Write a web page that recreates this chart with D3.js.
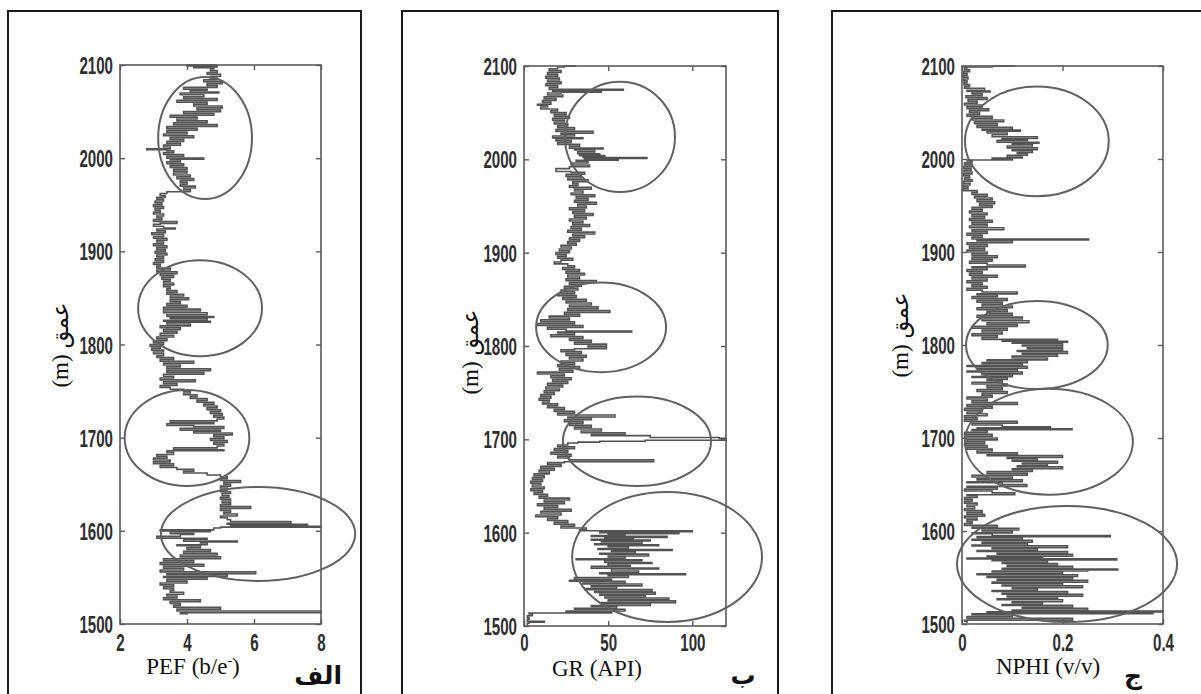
<!DOCTYPE html>
<html><head><meta charset="utf-8">
<script src="https://cdn.jsdelivr.net/npm/d3@7/dist/d3.min.js"></script>
<style>
html,body{margin:0;padding:0;background:#fff;}
svg{display:block;}
</style></head>
<body>
<svg id="chart" width="1201" height="694"></svg>
<script>
// ---------- DATA ----------
const depthTicks = [1500, 1600, 1700, 1800, 1900, 2000, 2100];
const pefTicks = [2, 4, 6, 8];
const grTicks = [0, 50, 100];
const nphiTicks = [0, 0.2, 0.4];
const nphiTickLabels = ["0", "0.2", "0.4"];

const xLabels = ["PEF (b/e", "GR (API)", "NPHI (v/v)"];
const yLabel = "(m) عمق";
const panelLetters = ["الف", "ب", "ج"];

// [depth (m), PEF (b/e-)]
const pefData = [
[2100,4.9],[2099,4.0],[2098,4.9],[2097,4.2],[2096,4.8],[2094,4.7],[2092,4.9],[2090,4.6],[2088,5.0],[2086,4.7],
[2084,4.9],[2082,4.5],[2080,5.05],[2078,4.6],[2076,4.9],[2074,3.9],[2073,4.6],[2071,4.1],[2070,4.95],[2068,3.8],
[2066,4.5],[2064,3.9],[2062,4.9],[2060,3.7],[2058,4.6],[2056,4.2],[2054,5.05],[2052,4.3],[2050,5.0],[2048,3.9],
[2046,4.8],[2044,3.5],[2042,4.3],[2040,3.7],[2038,4.6],[2036,3.6],[2034,4.9],[2032,3.4],[2030,4.3],[2028,3.4],
[2026,4.0],[2024,3.3],[2022,4.2],[2020,3.5],[2018,3.9],[2016,3.4],[2014,3.8],[2012,3.3],[2010,3.5],[2009,2.8],
[2008,3.4],[2006,3.6],[2004,3.3],[2002,3.9],[2000,3.4],[1999,4.5],[1998,3.5],[1996,3.8],[1994,3.4],[1992,3.9],
[1990,3.5],[1988,4.0],[1986,3.6],[1984,4.0],[1982,3.6],[1980,4.1],[1978,3.7],[1976,4.2],[1974,3.8],[1972,4.0],
[1970,3.8],[1968,4.25],[1966,3.9],[1964,4.1],[1962,3.4],[1960,3.2],[1958,3.35],[1956,3.1],[1954,3.3],[1952,3.05],
[1950,3.25],[1948,3.0],[1946,3.3],[1944,3.05],[1942,3.2],[1940,3.0],[1938,3.3],[1936,3.1],[1934,3.25],[1932,3.0],
[1930,3.7],[1929,3.2],[1927,3.0],[1925,3.3],[1924,3.65],[1922,3.1],[1920,3.35],[1918,2.95],[1916,3.3],[1914,3.0],
[1912,3.4],[1910,3.1],[1908,3.3],[1906,3.0],[1904,3.4],[1902,3.1],[1900,3.35],[1898,3.05],[1896,3.4],[1894,3.1],
[1892,3.3],[1890,3.05],[1888,3.3],[1886,3.0],[1884,3.2],[1882,3.1],[1880,3.5],[1878,3.1],[1876,3.7],[1874,3.2],
[1872,3.6],[1870,3.25],[1868,3.5],[1866,3.3],[1864,3.6],[1862,3.3],[1860,3.5],[1858,3.4],[1856,3.7],[1854,3.4],
[1852,3.9],[1850,3.5],[1848,4.05],[1846,3.5],[1844,3.8],[1842,3.4],[1840,4.0],[1838,3.3],[1836,4.4],[1834,3.3],
[1832,4.6],[1830,3.4],[1829,4.8],[1828,3.5],[1826,4.6],[1825,3.3],[1824,4.7],[1822,3.4],[1820,4.1],[1818,3.2],
[1816,3.8],[1814,3.3],[1812,3.7],[1810,3.2],[1808,3.6],[1806,3.1],[1804,3.4],[1802,3.0],[1800,3.3],[1798,2.9],
[1796,3.2],[1794,2.95],[1792,3.3],[1790,3.0],[1788,3.3],[1786,3.1],[1784,3.6],[1782,3.2],[1780,4.2],[1778,3.3],
[1776,3.8],[1774,3.4],[1772,4.7],[1770,3.4],[1768,4.5],[1766,3.3],[1764,3.6],[1762,3.2],[1760,4.25],[1758,3.3],
[1756,3.7],[1754,3.2],[1752,3.5],[1750,3.9],[1748,4.1],[1746,3.9],[1744,4.3],[1742,4.1],[1740,4.6],[1738,4.3],
[1736,4.8],[1734,4.5],[1732,4.9],[1730,4.6],[1728,5.0],[1726,4.7],[1724,5.05],[1722,4.8],[1720,5.1],[1718,4.9],
[1716,3.5],[1715,4.8],[1713,3.4],[1712,4.2],[1710,5.1],[1708,3.8],[1707,5.0],[1705,4.2],[1703,5.35],[1701,4.8],
[1699,5.1],[1697,4.7],[1695,5.2],[1693,4.8],[1691,5.1],[1689,4.9],[1687,3.6],[1686,5.1],[1684,3.4],[1682,3.6],
[1680,3.1],[1678,3.4],[1676,3.0],[1674,3.5],[1672,3.0],[1670,3.6],[1668,3.2],[1666,3.7],[1664,4.2],[1662,3.9],
[1660,4.6],[1658,5.0],[1656,5.2],[1654,5.0],[1652,5.6],[1650,5.1],[1648,5.3],[1646,5.0],[1644,5.2],[1642,5.0],
[1640,5.3],[1638,5.05],[1636,5.25],[1634,5.0],[1632,5.3],[1630,5.05],[1628,5.3],[1626,5.0],[1624,5.9],[1622,5.0],
[1620,5.3],[1618,5.1],[1616,5.5],[1614,5.0],[1612,5.2],[1610,5.3],[1608,7.1],[1607,5.2],[1606,7.6],[1605,5.3],
[1604,8.0],[1603,5.0],[1601,4.8],[1600,3.2],[1599,4.7],[1597,3.5],[1596,4.2],[1594,3.8],[1592,3.1],[1591,4.6],
[1589,3.9],[1588,5.5],[1587,4.4],[1585,4.6],[1584,3.7],[1582,4.4],[1580,4.0],[1578,4.7],[1576,3.9],[1574,4.9],
[1572,3.8],[1570,5.0],[1568,3.3],[1566,4.2],[1564,3.2],[1562,4.5],[1560,3.3],[1558,3.9],[1556,3.2],[1554,6.05],
[1553,3.4],[1551,5.2],[1550,3.3],[1548,4.6],[1546,3.4],[1544,4.0],[1542,3.2],[1540,3.6],[1538,3.3],[1536,3.6],
[1534,3.5],[1532,3.9],[1530,3.4],[1528,3.7],[1526,3.3],[1524,4.4],[1522,3.5],[1520,3.8],[1518,3.6],[1516,5.0],
[1514,3.7],[1512,8.0],[1511,3.8],[1510,4.0]
];

// [depth (m), GR (API)]
const grData = [
[2100,31],[2099,24],[2097,20],[2095,15],[2093,22],[2091,14],[2089,20],[2087,13],[2085,21],[2083,14],
[2081,22],[2079,13],[2077,20],[2075,15],[2074,59],[2073,17],[2072,46],[2071,22],[2069,14],[2067,23],
[2065,12],[2063,19],[2061,11],[2059,16],[2058,8],[2056,14],[2054,10],[2052,20],[2050,16],[2048,25],
[2046,18],[2044,27],[2042,17],[2040,24],[2038,18],[2036,26],[2034,20],[2032,30],[2030,19],[2028,41],
[2027,22],[2025,30],[2023,17],[2022,35],[2020,19],[2018,28],[2016,20],[2014,33],[2012,27],[2011,47],
[2010,30],[2008,42],[2006,32],[2005,45],[2004,33],[2003,48],[2002,35],[2001,73],[2000,36],[1999,56],
[1998,31],[1996,38],[1994,28],[1992,39],[1990,27],[1987,19],[1986,28],[1984,36],[1982,25],[1980,34],
[1978,26],[1976,38],[1974,29],[1972,32],[1970,27],[1968,40],[1966,30],[1964,35],[1962,28],[1960,42],
[1958,31],[1956,38],[1954,30],[1952,43],[1950,32],[1948,37],[1946,27],[1944,36],[1942,29],[1940,41],
[1938,30],[1936,37],[1934,27],[1932,35],[1930,29],[1928,39],[1926,28],[1924,34],[1922,26],[1920,42],
[1918,29],[1916,36],[1914,27],[1912,33],[1910,26],[1908,31],[1906,22],[1904,28],[1902,21],[1900,27],
[1898,19],[1896,25],[1894,20],[1892,29],[1890,22],[1888,18],[1886,26],[1884,30],[1882,23],[1880,33],
[1878,25],[1876,36],[1874,26],[1872,33],[1870,25],[1868,43],[1866,27],[1864,34],[1862,24],[1860,32],
[1858,22],[1856,30],[1854,20],[1852,31],[1850,23],[1848,37],[1846,25],[1844,40],[1842,27],[1840,44],
[1838,26],[1836,51],[1834,24],[1832,33],[1830,15],[1828,27],[1826,10],[1824,30],[1822,8],[1820,35],
[1818,14],[1816,25],[1815,64],[1814,20],[1812,30],[1810,16],[1808,35],[1806,27],[1804,40],[1802,30],
[1800,49],[1799,38],[1797,49],[1796,30],[1794,22],[1792,34],[1790,25],[1788,37],[1786,27],[1784,35],
[1782,22],[1780,30],[1778,20],[1776,33],[1774,21],[1772,29],[1770,8],[1768,24],[1766,16],[1764,28],
[1762,17],[1760,26],[1758,14],[1756,23],[1754,13],[1752,21],[1750,12],[1748,18],[1746,10],[1744,16],
[1742,9],[1740,15],[1738,11],[1736,20],[1734,14],[1732,24],[1730,18],[1728,30],[1726,20],[1724,54],
[1723,26],[1721,40],[1719,24],[1717,35],[1715,27],[1713,40],[1711,30],[1709,46],[1707,34],[1705,60],
[1704,40],[1702,75],[1701,116],[1700,120],[1699,120],[1698,72],[1697,45],[1696,32],[1694,26],[1692,20],
[1690,30],[1688,18],[1686,26],[1684,16],[1682,28],[1680,20],[1678,27],[1676,77],[1675,24],[1673,14],
[1671,22],[1669,10],[1667,18],[1665,9],[1663,15],[1661,6],[1659,12],[1657,5],[1655,11],[1653,4],
[1651,10],[1649,5],[1647,12],[1645,4],[1643,11],[1641,6],[1639,14],[1637,9],[1635,27],[1633,12],
[1631,24],[1629,8],[1627,20],[1625,12],[1623,28],[1621,10],[1619,22],[1617,7],[1615,20],[1613,14],
[1611,26],[1609,18],[1607,30],[1605,22],[1603,37],[1602,33],[1601,100],[1600,45],[1599,92],[1598,50],
[1597,60],[1596,40],[1595,85],[1594,48],[1593,65],[1592,40],[1591,75],[1590,46],[1588,70],[1587,42],
[1586,80],[1585,50],[1583,62],[1582,44],[1581,88],[1580,52],[1578,66],[1577,45],[1575,74],[1574,50],
[1572,60],[1571,31],[1570,70],[1568,48],[1567,76],[1565,50],[1564,63],[1562,40],[1561,80],[1559,52],
[1557,68],[1556,45],[1555,96],[1554,50],[1552,62],[1550,30],[1549,52],[1548,27],[1546,60],[1545,35],
[1543,70],[1542,40],[1540,55],[1539,36],[1537,76],[1536,42],[1534,78],[1533,45],[1531,72],[1530,48],
[1528,86],[1527,50],[1525,90],[1524,46],[1522,75],[1521,40],[1519,55],[1518,30],[1516,60],[1515,25],
[1514,52],[1513,3],[1511,5],[1509,2],[1507,3],[1505,2],[1504,12],[1503,3],[1501,2]
];

// [depth (m), NPHI (v/v)]
const nphiData = [
[2100,0.106],[2099,0.06],[2098,0.01],[2096,0.005],[2094,0.015],[2092,0.003],[2090,0.01],[2088,0.002],[2086,0.012],[2084,0.003],
[2082,0.01],[2080,0.004],[2078,0.015],[2076,0.005],[2074,0.045],[2073,0.01],[2072,0.056],[2070,0.02],[2068,0.04],[2066,0.008],
[2064,0.05],[2062,0.012],[2060,0.03],[2058,0.005],[2056,0.04],[2054,0.01],[2052,0.053],[2050,0.015],[2048,0.035],[2046,0.01],
[2044,0.06],[2042,0.02],[2040,0.083],[2038,0.025],[2036,0.07],[2034,0.03],[2032,0.1],[2031,0.04],[2030,0.116],[2028,0.05],
[2026,0.09],[2024,0.06],[2022,0.15],[2021,0.08],[2020,0.13],[2018,0.07],[2017,0.153],[2016,0.1],[2014,0.14],[2012,0.09],
[2010,0.15],[2009,0.1],[2007,0.14],[2006,0.11],[2004,0.13],[2002,0.09],[2001,0.12],[2000,0.06],[1999,0.1],[1998,0.01],
[1996,0.02],[1994,0.005],[1992,0.02],[1990,0.003],[1988,0.018],[1986,0.004],[1984,0.02],[1982,0.003],[1980,0.015],[1978,0.005],
[1976,0.02],[1974,0.003],[1972,0.016],[1970,0.002],[1968,0.012],[1966,0.002],[1964,0.03],[1962,0.02],[1960,0.05],[1958,0.025],
[1956,0.06],[1954,0.03],[1952,0.065],[1950,0.035],[1948,0.06],[1946,0.02],[1944,0.04],[1942,0.015],[1940,0.05],[1938,0.02],
[1936,0.045],[1934,0.015],[1932,0.06],[1930,0.02],[1928,0.05],[1926,0.015],[1924,0.083],[1922,0.02],[1920,0.05],[1918,0.01],
[1916,0.04],[1914,0.02],[1913,0.252],[1912,0.03],[1910,0.1],[1908,0.01],[1906,0.05],[1904,0.015],[1902,0.045],[1900,0.01],
[1898,0.05],[1896,0.02],[1894,0.07],[1892,0.02],[1890,0.06],[1888,0.015],[1886,0.05],[1884,0.126],[1883,0.02],[1881,0.05],
[1879,0.01],[1877,0.04],[1875,0.015],[1873,0.07],[1871,0.02],[1869,0.05],[1867,0.01],[1865,0.04],[1863,0.02],[1861,0.05],
[1859,0.01],[1857,0.04],[1855,0.11],[1854,0.03],[1852,0.07],[1850,0.02],[1848,0.09],[1846,0.03],[1844,0.08],[1842,0.04],
[1840,0.1],[1838,0.03],[1836,0.09],[1834,0.05],[1832,0.1],[1830,0.03],[1828,0.12],[1826,0.04],[1824,0.133],[1822,0.05],
[1820,0.11],[1818,0.02],[1816,0.09],[1814,0.04],[1812,0.08],[1810,0.02],[1808,0.07],[1806,0.04],[1805,0.19],[1804,0.08],
[1803,0.21],[1802,0.1],[1800,0.2],[1799,0.12],[1797,0.2],[1796,0.13],[1794,0.2],[1793,0.11],[1791,0.21],[1790,0.12],
[1788,0.19],[1786,0.1],[1784,0.17],[1783,0.05],[1781,0.13],[1780,0.04],[1778,0.12],[1777,0.01],[1775,0.13],[1774,0.03],
[1772,0.11],[1771,0.01],[1769,0.12],[1768,0.04],[1766,0.1],[1765,0.02],[1763,0.09],[1762,0.05],[1760,0.08],[1758,0.02],
[1756,0.09],[1754,0.05],[1752,0.08],[1750,0.03],[1748,0.09],[1746,0.04],[1744,0.06],[1742,0.01],[1740,0.05],[1738,0.02],
[1736,0.11],[1734,0.01],[1732,0.06],[1730,0.005],[1728,0.04],[1726,0.01],[1724,0.05],[1722,0.005],[1720,0.03],[1718,0.005],
[1716,0.11],[1714,0.02],[1712,0.08],[1711,0.176],[1710,0.03],[1709,0.219],[1708,0.02],[1706,0.05],[1704,0.005],[1702,0.06],
[1700,0.005],[1698,0.07],[1696,0.01],[1694,0.045],[1692,0.005],[1690,0.05],[1688,0.01],[1686,0.06],[1684,0.03],[1682,0.11],
[1681,0.05],[1679,0.2],[1678,0.09],[1676,0.15],[1675,0.1],[1673,0.19],[1672,0.12],[1670,0.17],[1669,0.11],[1667,0.2],
[1666,0.1],[1664,0.14],[1662,0.05],[1660,0.13],[1658,0.02],[1656,0.1],[1655,0.03],[1653,0.12],[1652,0.01],[1650,0.08],
[1648,0.129],[1647,0.01],[1645,0.07],[1643,0.005],[1641,0.06],[1639,0.105],[1638,0.01],[1636,0.03],[1634,0.005],[1632,0.02],
[1630,0.005],[1628,0.03],[1626,0.01],[1624,0.025],[1622,0.005],[1620,0.04],[1618,0.01],[1616,0.045],[1614,0.005],[1612,0.03],
[1610,0.01],[1608,0.02],[1606,0.005],[1604,0.07],[1603,0.02],[1601,0.113],[1600,0.04],[1598,0.1],[1597,0.02],[1595,0.06],
[1594,0.295],[1593,0.03],[1591,0.12],[1590,0.02],[1588,0.14],[1587,0.04],[1585,0.13],[1584,0.02],[1582,0.21],[1581,0.06],
[1579,0.15],[1578,0.03],[1576,0.21],[1575,0.07],[1573,0.22],[1572,0.05],[1571,0.16],[1570,0.01],[1569,0.308],[1568,0.06],
[1566,0.17],[1565,0.08],[1563,0.19],[1562,0.09],[1560,0.22],[1559,0.08],[1558,0.31],[1557,0.25],[1556,0.06],[1554,0.2],
[1553,0.03],[1551,0.23],[1550,0.05],[1548,0.22],[1547,0.07],[1545,0.25],[1544,0.06],[1542,0.2],[1541,0.08],[1539,0.24],
[1538,0.1],[1536,0.15],[1535,0.06],[1533,0.21],[1532,0.08],[1530,0.24],[1529,0.09],[1527,0.19],[1526,0.07],[1524,0.2],
[1523,0.1],[1521,0.16],[1520,0.08],[1518,0.22],[1517,0.12],[1515,0.25],[1514,0.1],[1513,0.4],[1512,0.05],[1511,0.38],
[1510,0.02],[1508,0.1],[1506,0.01],[1504,0.22],[1503,0.005],[1501,0.01]
];

// highlight ellipses: [centre depth, centre value, depth radius, value radius]
const pefEllipses = [[2021.6,4.54,65.5,1.40],[1839,4.39,51.5,1.85],[1699.7,4.0,51.5,1.86],[1596.6,6.12,50.4,2.9]];
const grEllipses = [[2024,57.0,59,32.7],[1820,45.8,48,38.6],[1698,67.1,48,44],[1574,85,69.6,56.4]];
const nphiEllipses = [[2019,0.149,59,0.143],[1800,0.149,47.3,0.141],[1696,0.173,57,0.167],[1564.5,0.209,62.4,0.219]];

// ---------- LAYOUT ----------
const panels = [
  {data: pefData, ell: pefEllipses, xDom:[2,8], ticks: pefTicks, fmt: d=>String(d),
   frame:[8,11,353,700], plot:[120,65,321,624], label: xLabels[0], sup:true, labelX:193, labelY:674,
   yLabX:60, yLabY:345, letter: panelLetters[0], letterX:342, letterAnchor:"end"},
  {data: grData, ell: grEllipses, xDom:[0,120], ticks: grTicks, fmt: d=>String(d),
   frame:[402,11,376,700], plot:[524,66,726,626], label: xLabels[1], sup:false, labelX:597, labelY:676,
   yLabX:470, yLabY:352, letter: panelLetters[1], letterX:743, letterAnchor:"middle"},
  {data: nphiData, ell: nphiEllipses, xDom:[0,0.4], ticks: nphiTicks, fmt: (d,i)=>nphiTickLabels[i],
   frame:[832,11,400,700], plot:[962,66,1163,624], label: xLabels[2], sup:false, labelX:1048, labelY:674,
   yLabX:900, yLabY:335, letter: panelLetters[2], letterX:1133, letterAnchor:"middle"}
];

const svg = d3.select("#chart");
const SX = 0.63; // condensed tick font

panels.forEach(p => {
  const [fx, fy, fw, fh] = p.frame;
  svg.append("rect").attr("x", fx).attr("y", fy).attr("width", fw).attr("height", fh)
     .attr("fill", "none").attr("stroke", "#1a1a1a").attr("stroke-width", 2);

  const [x0, y0, x1, y1] = p.plot;
  const x = d3.scaleLinear().domain(p.xDom).range([x0, x1]);
  const y = d3.scaleLinear().domain([1500, 2100]).range([y1, y0]);

  const g = svg.append("g");

  // curve (stepped, horizontal bars at each sample depth)
  const line = d3.line().x(d => x(d[1])).y(d => y(d[0])).curve(d3.curveStepAfter);
  g.append("path").datum(p.data).attr("d", line)
    .attr("fill", "none").attr("stroke", "#535353").attr("stroke-width", 1.6);

  // plot box
  g.append("rect").attr("x", x0).attr("y", y0).attr("width", x1 - x0).attr("height", y1 - y0)
    .attr("fill", "none").attr("stroke", "#5a5a5a").attr("stroke-width", 1.6);

  // axes (inward ticks)
  const styleAxis = sel => {
    sel.select(".domain").remove();
    sel.selectAll(".tick line").attr("stroke", "#5a5a5a").attr("stroke-width", 1.4);
  };
  const left = g.append("g").attr("transform", `translate(${x0},0)`)
    .call(d3.axisLeft(y).tickValues(depthTicks).tickSize(-5).tickSizeOuter(0).tickPadding(0).tickFormat(d3.format("d")));
  styleAxis(left);
  left.selectAll(".tick text")
    .attr("x", -7 / SX).attr("transform", `scale(${SX},1)`)
    .attr("font-family", "Liberation Sans, Arial, sans-serif").attr("font-weight", "bold")
    .attr("font-size", 24).attr("fill", "#2e2e2e").attr("dy", "0.36em");

  const right = g.append("g").attr("transform", `translate(${x1},0)`)
    .call(d3.axisRight(y).tickValues(depthTicks).tickSize(-5).tickSizeOuter(0).tickFormat(""));
  styleAxis(right);

  const bottom = g.append("g").attr("transform", `translate(0,${y1})`)
    .call(d3.axisBottom(x).tickValues(p.ticks).tickSize(-5).tickSizeOuter(0).tickPadding(0).tickFormat(p.fmt));
  styleAxis(bottom);
  bottom.selectAll(".tick text")
    .attr("y", 634 - y1).attr("dy", "0.71em").attr("transform", `scale(${SX},1)`)
    .attr("font-family", "Liberation Sans, Arial, sans-serif").attr("font-weight", "bold")
    .attr("font-size", 24).attr("fill", "#2e2e2e");

  const top = g.append("g").attr("transform", `translate(0,${y0})`)
    .call(d3.axisTop(x).tickValues(p.ticks).tickSize(-5).tickSizeOuter(0).tickFormat(""));
  styleAxis(top);

  // ellipses
  g.selectAll("ellipse.hl").data(p.ell).enter().append("ellipse")
    .attr("cx", d => x(d[1])).attr("cy", d => y(d[0]))
    .attr("rx", d => x(d[1] + d[3]) - x(d[1]))
    .attr("ry", d => y(d[0] - d[2]) - y(d[0]))
    .attr("fill", "none").attr("stroke", "#616161").attr("stroke-width", 2);

  // x label
  const xl = svg.append("text").attr("x", p.labelX).attr("y", p.labelY).attr("text-anchor", "middle")
    .attr("font-family", "Liberation Serif, Times New Roman, serif").attr("font-size", 23).attr("fill", "#111");
  xl.append("tspan").text(p.label);
  if (p.sup) {
    xl.append("tspan").attr("dy", -9).attr("font-size", 14).text("-");
    xl.append("tspan").attr("dy", 9).text(")");
  }

  // y label
  svg.append("text").attr("transform", `translate(${p.yLabX},${p.yLabY}) rotate(-90)`)
    .attr("text-anchor", "middle").attr("dominant-baseline", "central").attr("direction", "ltr")
    .attr("font-family", "Liberation Serif, DejaVu Sans, serif").attr("font-size", 23).attr("fill", "#111")
    .text(yLabel);

  // panel letter
  svg.append("text").attr("x", p.letterX).attr("y", 684).attr("text-anchor", p.letterAnchor)
    .attr("font-family", "DejaVu Sans, sans-serif").attr("font-weight", "bold").attr("font-size", 25)
    .attr("fill", "#111").text(p.letter);
});
</script>
</body></html>
